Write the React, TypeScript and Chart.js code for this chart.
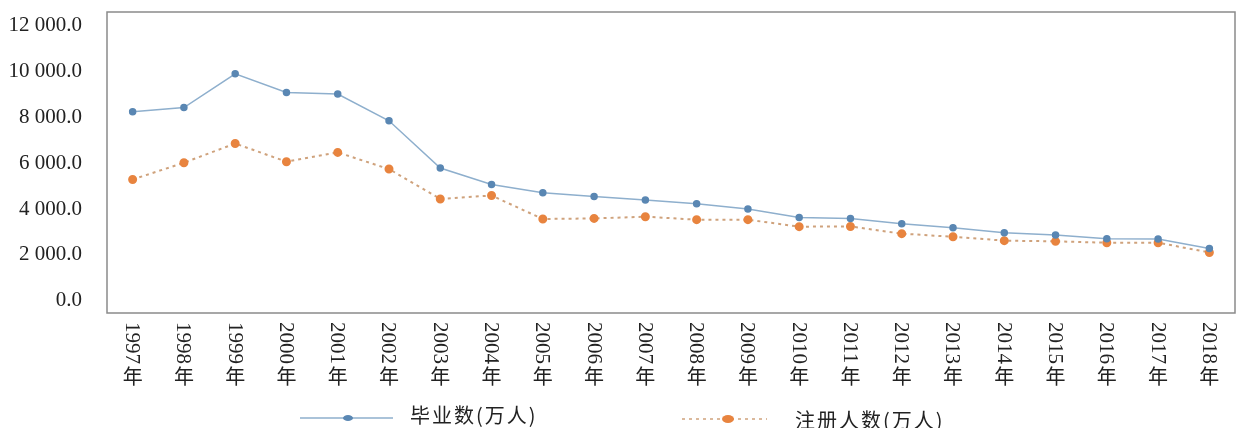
import React, { useEffect, useRef } from "react";
import { Chart, registerables } from "chart.js";

Chart.register(...registerables);

const years = ["1997","1998","1999","2000","2001","2002","2003","2004","2005","2006","2007","2008","2009","2010","2011","2012","2013","2014","2015","2016","2017","2018"];
const graduates = [8250, 8430, 9900, 9090, 9020, 7850, 5790, 5070, 4710, 4550, 4390, 4230, 4000, 3630, 3590, 3360, 3185, 2970, 2870, 2705, 2690, 2280];
const registered = [5290, 6020, 6860, 6065, 6470, 5745, 4440, 4590, 3565, 3590, 3665, 3535, 3535, 3230, 3240, 2925, 2790, 2620, 2590, 2530, 2530, 2105];
const yTicks = [0, 2000, 4000, 6000, 8000, 10000, 12000];
const seriesNames = ["毕业数(万人)", "注册人数(万人)"];
const yearSuffix = "年";

const BLUE_LINE = "#8eafcd";
const BLUE_PT = "#5a87b3";
const ORANGE_LINE = "#cfa27c";
const ORANGE_PT = "#e8843f";

function fmt(v: number): string {
  const s = Math.round(v).toString();
  const withSpace = s.replace(/\B(?=(\d{3})+(?!\d))/g, " ");
  return withSpace + ".0";
}

const framePlugin = {
  id: "frame",
  beforeDatasetsDraw(chart: any) {
    const { ctx, chartArea } = chart;
    ctx.save();
    ctx.strokeStyle = "#8a8a8a";
    ctx.lineWidth = 1.5;
    ctx.strokeRect(chartArea.left, chartArea.top, chartArea.right - chartArea.left, chartArea.bottom - chartArea.top);
    ctx.restore();
  },
  afterDraw(chart: any) {
    const { ctx, chartArea } = chart;
    const xs = chart.scales.x;
    ctx.save();
    ctx.fillStyle = "#222";
    years.forEach((y, i) => {
      const x = xs.getPixelForTick(i);
      ctx.save();
      ctx.translate(x, chartArea.bottom + 9);
      ctx.rotate(Math.PI / 2);
      ctx.font = "21px 'Liberation Serif', serif";
      ctx.textAlign = "left";
      ctx.textBaseline = "middle";
      ctx.fillText(y, 0, 1);
      ctx.restore();
      ctx.font = "20px 'Noto Sans CJK SC', sans-serif";
      ctx.textAlign = "center";
      ctx.textBaseline = "top";
      ctx.fillText(yearSuffix, x, chartArea.bottom + 53);
    });
    const items = [
      { x0: 300, x1: 393, mx: 348, ly: 418, tx: 410, ty: 415, color: BLUE_LINE, pt: BLUE_PT, dash: [] as number[], r: 3 },
      { x0: 682, x1: 767, mx: 728, ly: 419, tx: 795, ty: 420, color: ORANGE_LINE, pt: ORANGE_PT, dash: [3, 4], r: 4 },
    ];
    items.forEach((it, k) => {
      ctx.save();
      ctx.strokeStyle = it.color;
      ctx.lineWidth = 1.5;
      ctx.setLineDash(it.dash);
      ctx.beginPath();
      ctx.moveTo(it.x0, it.ly);
      ctx.lineTo(it.x1, it.ly);
      ctx.stroke();
      ctx.setLineDash([]);
      ctx.fillStyle = it.pt;
      ctx.beginPath();
      ctx.ellipse(it.mx, it.ly, it.r + 2, it.r, 0, 0, Math.PI * 2);
      ctx.fill();
      ctx.fillStyle = "#222";
      ctx.font = "20px 'Noto Sans CJK SC', sans-serif";
      (ctx as any).letterSpacing = "2px";
      ctx.textAlign = "left";
      ctx.textBaseline = "middle";
      ctx.fillText(seriesNames[k], it.tx, it.ty);
      ctx.restore();
    });
    ctx.restore();
  },
};

export default function App() {
  const ref = useRef<HTMLCanvasElement | null>(null);
  useEffect(() => {
    if (!ref.current) return;
    const chart = new Chart(ref.current, {
      type: "line",
      data: {
        labels: years,
        datasets: [
          {
            label: seriesNames[0],
            data: graduates,
            borderColor: BLUE_LINE,
            borderWidth: 1.5,
            pointBackgroundColor: BLUE_PT,
            pointBorderColor: BLUE_PT,
            pointRadius: 3,
            tension: 0,
          },
          {
            label: seriesNames[1],
            data: registered,
            borderColor: ORANGE_LINE,
            borderWidth: 2,
            borderDash: [3, 4],
            pointBackgroundColor: ORANGE_PT,
            pointBorderColor: ORANGE_PT,
            pointRadius: 3.5,
            tension: 0,
          },
        ],
      },
      options: {
        animation: false,
        responsive: false,
        devicePixelRatio: 1,
        layout: { padding: { left: 0, right: 3, top: 12, bottom: 0 } },
        plugins: { legend: { display: false }, tooltip: { enabled: false } },
        scales: {
          x: {
            offset: true,
            grid: { display: false, drawTicks: false },
            border: { display: false },
            ticks: { display: false },
            afterFit: (s: any) => {
              s.height = 115;
              s.paddingLeft = 0; s.paddingRight = 0; s.paddingTop = 0; s.paddingBottom = 0;
            },
          },
          y: {
            min: -537,
            max: 12598,
            grid: { display: false, drawTicks: false },
            border: { display: false },
            afterBuildTicks: (s: any) => { s.ticks = yTicks.map((v) => ({ value: v })); },
            afterFit: (s: any) => {
              s.width = 107;
              s.paddingLeft = 0; s.paddingRight = 0; s.paddingTop = 0; s.paddingBottom = 0;
            },
            ticks: {
              padding: 25,
              color: "#222",
              font: { family: "'Liberation Serif', serif", size: 21 },
              callback: (v: any) => fmt(Number(v)),
            },
          },
        },
      },
      plugins: [framePlugin],
    });
    return () => chart.destroy();
  }, []);
  return (
    <div style={{ position: "absolute", left: 0, top: 0, width: 1241, height: 428, background: "#fff" }}>
      <canvas ref={ref} width={1241} height={428} />
    </div>
  );
}
